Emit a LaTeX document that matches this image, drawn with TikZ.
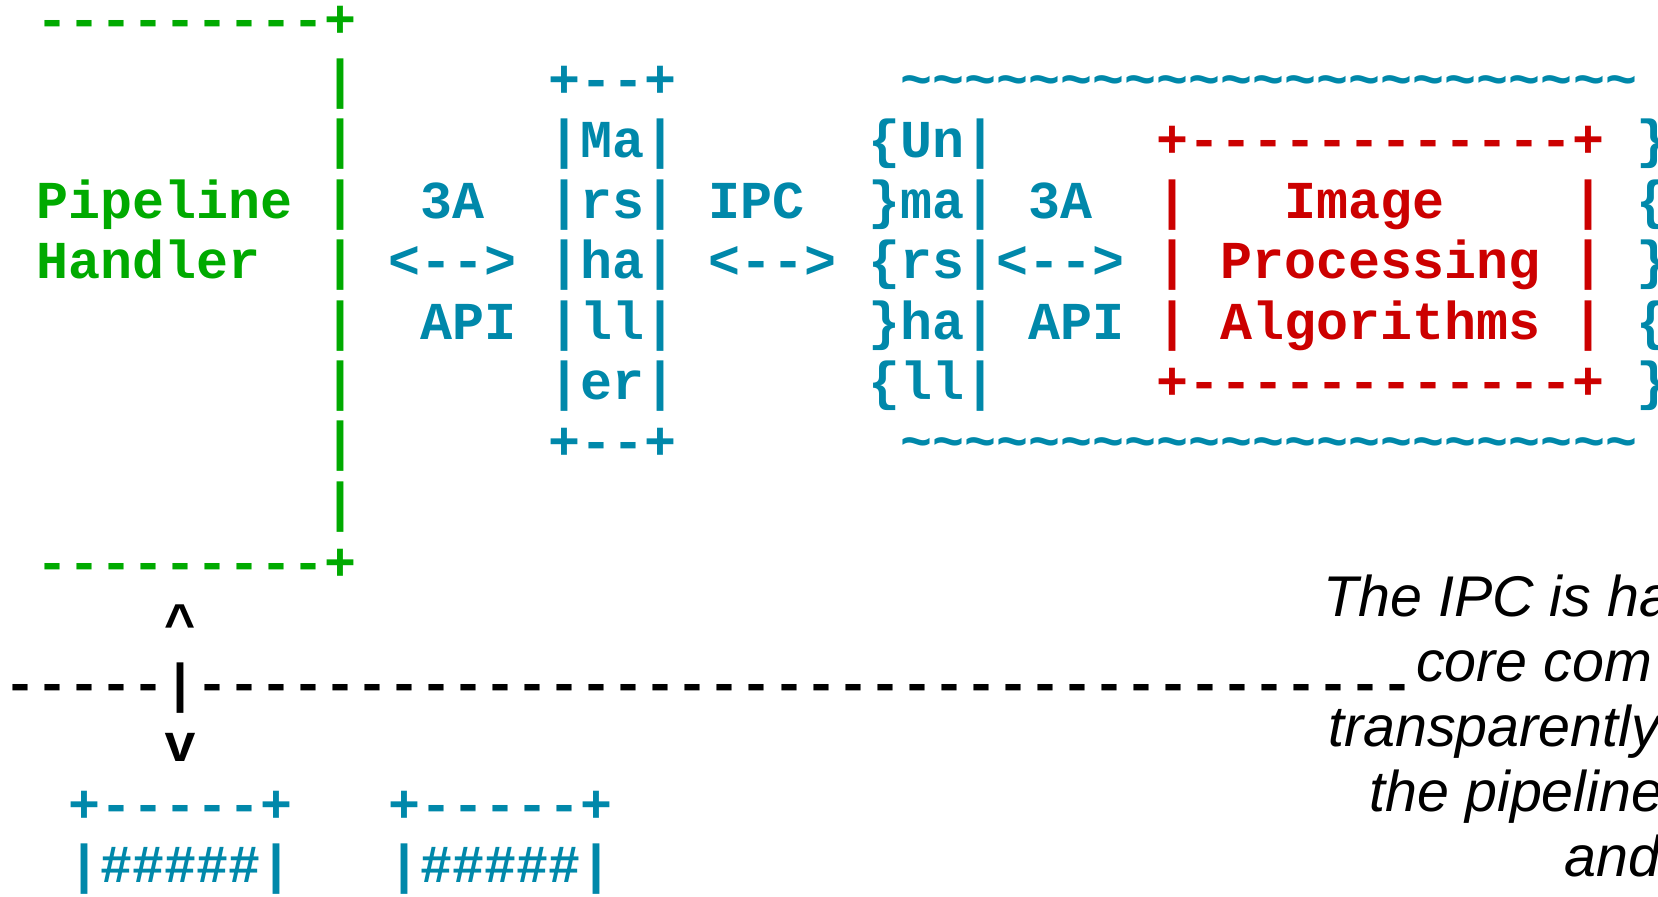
\documentclass[tikz,border=0pt]{standalone}
\usepackage{fontspec}
\setmainfont{Liberation Sans}
\setmonofont{Liberation Mono}
\definecolor{phgreen}{HTML}{00AA00}
\definecolor{ipcblue}{HTML}{0088AA}
\definecolor{algred}{HTML}{CC0000}
\tikzset{
  art/.style={anchor=base west, inner sep=0pt, font=\fontsize{26.67pt}{30pt}\selectfont\ttfamily\bfseries},
  note/.style={anchor=base west, inner sep=0pt, font=\fontsize{28.7pt}{32pt}\selectfont\itshape}
}
\begin{document}
\begin{tikzpicture}[x=16pt,y=-30.2pt]
  \useasboundingbox (-2.25pt,18.55pt) rectangle (826.75pt,-429.45pt);
  \clip (-2.25pt,18.55pt) rectangle (826.75pt,-429.45pt);
  % pipeline handler
  \begin{scope}[every node/.style={art,text=phgreen}]
    \node (ph0) at (1,0) {---------+};
    \node (ph1) at (10,1) {|};
    \node (ph2) at (10,2) {|};
    \node (ph3) at (1,3) {Pipeline |};
    \node (ph4) at (1,4) {Handler\ \ |};
    \node (ph5) at (10,5) {|};
    \node (ph6) at (10,6) {|};
    \node (ph7) at (10,7) {|};
    \node (ph8) at (10,8) {|};
    \node (ph9) at (1,9) {---------+};
  \end{scope}
  % marshaller, IPC, unmarshaller
  \begin{scope}[every node/.style={art,text=ipcblue}]
    \node (api1) at (13,3) {3A};
    \node (api2) at (12,4) {<-{}->};
    \node (api3) at (13,5) {API};
    \node (ma0) at (17,1) {+-{}-+};
    \node (ma1) at (17,2) {|Ma|};
    \node (ma2) at (17,3) {|rs|};
    \node (ma3) at (17,4) {|ha|};
    \node (ma4) at (17,5) {|ll|};
    \node (ma5) at (17,6) {|er|};
    \node (ma6) at (17,7) {+-{}-+};
    \node (ipc1) at (22,3) {IPC};
    \node (ipc2) at (22,4) {<-{}->};
    \node (wave0) at (28,1) {\~{}\~{}\~{}\~{}\~{}\~{}\~{}\~{}\~{}\~{}\~{}\~{}\~{}\~{}\~{}\~{}\~{}\~{}\~{}\~{}\~{}\~{}\~{}};
    \node (un1) at (27,2) {\{Un|};
    \node (un2) at (27,3) {\}ma|};
    \node (un3) at (27,4) {\{rs|<-{}->};
    \node (un4) at (27,5) {\}ha|};
    \node (un5) at (27,6) {\{ll|};
    \node (ipa1) at (32,3) {3A};
    \node (ipa3) at (32,5) {API};
    \node (wave1) at (28,7) {\~{}\~{}\~{}\~{}\~{}\~{}\~{}\~{}\~{}\~{}\~{}\~{}\~{}\~{}\~{}\~{}\~{}\~{}\~{}\~{}\~{}\~{}\~{}};
    \node (br1) at (51,2) {\}};
    \node (br2) at (51,3) {\{};
    \node (br3) at (51,4) {\}};
    \node (br4) at (51,5) {\{};
    \node (br5) at (51,6) {\}};
  \end{scope}
  % image processing algorithms
  \begin{scope}[every node/.style={art,text=algred}]
    \node (alg0) at (36,2) {+------------+};
    \node (alg1) at (36,3) {|\ \ \ Image\ \ \ \ |};
    \node (alg2) at (36,4) {| Processing |};
    \node (alg3) at (36,5) {| Algorithms |};
    \node (alg4) at (36,6) {+------------+};
  \end{scope}
  % process boundary
  \begin{scope}[every node/.style={art,text=black}]
    \node (up) at (5,10) {\^{}};
    \node (bound) at (0,11) {-----|--------------------------------------};
    \node (down) at (5,12) {v};
  \end{scope}
  % buffers
  \begin{scope}[every node/.style={art,text=ipcblue}]
    \node (buf0) at (2,13) {+-----+};
    \node (buf1) at (2,14) {|\#\#\#\#\#|};
    \node (buf2) at (12,13) {+-----+};
    \node (buf3) at (12,14) {|\#\#\#\#\#|};
  \end{scope}
  % note
  \node[note] (n1) at (41.2,9.596) {The IPC is ha};
  \node[note] (n2) at (44.1,10.672) {core com};
  \node[note] (n3) at (41.35,11.748) {transparently};
  \node[note] (n4) at (42.65,12.825) {the pipeline};
  \node[note] (n5) at (48.75,13.901) {and};
\end{tikzpicture}
\end{document}
